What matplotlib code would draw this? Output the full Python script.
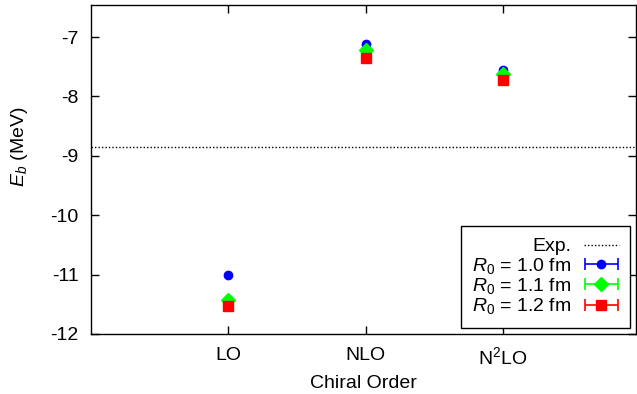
import numpy as np
import matplotlib
matplotlib.use("Agg")
import matplotlib.pyplot as plt
from matplotlib.legend_handler import HandlerErrorbar
from matplotlib.container import ErrorbarContainer

plt.rcParams["font.family"] = ["Liberation Sans", "DejaVu Sans"]
plt.rcParams["mathtext.fontset"] = "custom"
plt.rcParams["mathtext.rm"] = "Liberation Sans"
plt.rcParams["mathtext.it"] = "Liberation Sans:italic"

# data
orders = ["LO", "NLO", "N$^2$LO"]
x_pos = [1, 2, 3]
eb_r10 = [-11.00, -7.12, -7.55]
eb_r11 = [-11.42, -7.22, -7.62]
eb_r12 = [-11.53, -7.35, -7.73]
eb_exp = -8.85

series = [
    (eb_r10, "$R_0$ = 1.0 fm", "#0000ff", "o", 6),
    (eb_r11, "$R_0$ = 1.1 fm", "#00ff00", "D", 7),
    (eb_r12, "$R_0$ = 1.2 fm", "#ff0000", "s", 6.5),
]

fs = 14

fig = plt.figure(figsize=(6.37, 3.94), dpi=100)
ax = fig.add_axes([91/637, 60/394, 545/637, 329/394])

exp_line = ax.axhline(eb_exp, color="black", lw=1, ls=(0, (1, 1.5)), label="Exp.")

handles = [exp_line]
for vals, lab, col, mk, ms in series:
    ax.plot(x_pos, vals, ls="none", marker=mk, ms=ms, color=col, mec=col)
    # proxy for legend (gnuplot-style horizontal errorbar sample)
    h = ax.errorbar([np.nan], [np.nan], xerr=1.0, ls="none", marker=mk, ms=ms,
                    color=col, mec=col, elinewidth=1.2, capsize=4, capthick=1.2,
                    label=lab)
    handles.append(h)

ax.set_xlim(0, 3.97)
ax.set_ylim(-12, -6.46)
ax.set_xticks(x_pos)
ax.set_xticklabels(orders)
ax.set_yticks([-12, -11, -10, -9, -8, -7])
ax.set_yticklabels(["-12", "-11", "-10", "-9", "-8", "-7"])
ax.tick_params(direction="in", top=True, right=True, length=6, width=1,
               labelsize=fs)
ax.tick_params(axis="y", pad=9)
ax.tick_params(axis="x", pad=9)
for s in ax.spines.values():
    s.set_linewidth(1)

ax.set_xlabel("Chiral Order", fontsize=fs, labelpad=5)
ax.set_ylabel("$E_b$ (MeV)", fontsize=fs)
ax.yaxis.set_label_coords(-0.112, 0.57)

leg = ax.legend(handles=handles, loc="lower right", markerfirst=False,
                fontsize=fs, frameon=True, fancybox=False, edgecolor="black",
                framealpha=1, borderaxespad=0.3, handlelength=1.75,
                handletextpad=0.65, labelspacing=0.02, borderpad=0.6,
                handler_map={ErrorbarContainer: HandlerErrorbar(xerr_size=0.85)})
leg.get_frame().set_linewidth(1)

fig.savefig("out.png", dpi=100)
